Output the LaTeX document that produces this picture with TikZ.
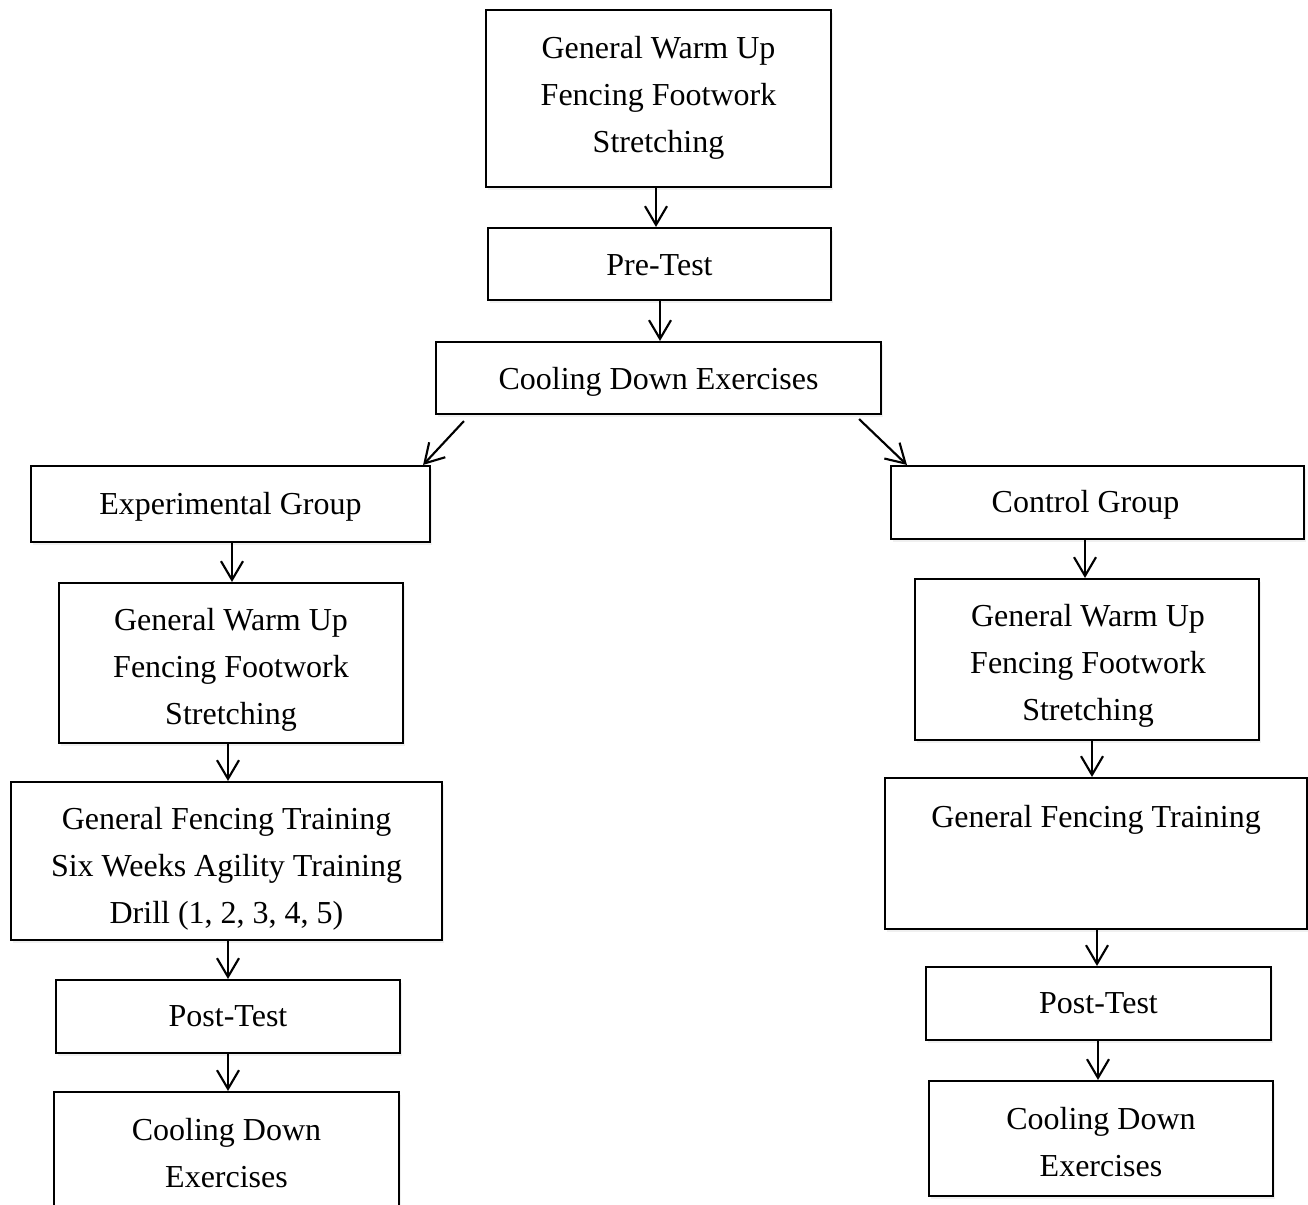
\documentclass[tikz,border=0pt]{standalone}
\usepackage{fontspec}
\setmainfont{Liberation Serif}
\usetikzlibrary{arrows.meta,shadows}
\newcommand\boxtext[4]{%
  \node[txt] (#1) at ([shift={(#3)}]#2.center) {#4};}
\begin{document}
\begin{tikzpicture}[x=0.75pt,y=-0.75pt,
  box/.style={draw, line width=1.6pt, fill=white, inner sep=0pt,
    drop shadow={opacity=0.12, shadow xshift=1.5pt, shadow yshift=-2pt}},
  txt/.style={align=center, inner sep=0pt, font=\fontsize{24}{35.25}\selectfont},
  arr/.style={line width=1.6pt, -{Straight Barb[length=14pt,width=16.5pt,line width=1.6pt]}}]
\useasboundingbox (0,0) rectangle (1308,1204);
\node[box, minimum width=258.75pt, minimum height=132.75pt] (top) at (658.5,98.5) {};
\node[box, minimum width=257.25pt, minimum height=54pt] (pre) at (659.5,264) {};
\node[box, minimum width=333.75pt, minimum height=54pt] (cd) at (658.5,378) {};
\node[box, minimum width=299.25pt, minimum height=57pt] (eg) at (230.5,504) {};
\node[box, minimum width=309.75pt, minimum height=54.75pt] (cg) at (1097.5,502.5) {};
\node[box, minimum width=258pt, minimum height=120pt] (lwu) at (231,663) {};
\node[box, minimum width=258pt, minimum height=120.75pt] (rwu) at (1087,659.5) {};
\node[box, minimum width=323.25pt, minimum height=118.5pt] (lgft) at (226.5,861) {};
\node[box, minimum width=316.5pt, minimum height=113.25pt] (rgft) at (1096,853.5) {};
\node[box, minimum width=258pt, minimum height=54.75pt] (lpt) at (228,1016.5) {};
\node[box, minimum width=258.75pt, minimum height=54.75pt] (rpt) at (1098.5,1003.5) {};
\node[box, minimum width=258.75pt, minimum height=90pt] (lcd) at (226.5,1152) {};
\node[box, minimum width=258pt, minimum height=86.25pt] (rcd) at (1101,1138.5) {};
\boxtext{ttop}{top}{0,-1}{General Warm Up\\Fencing Footwork\\Stretching}
\boxtext{tpre}{pre}{0,1}{Pre-Test}
\boxtext{tcd}{cd}{0,4}{Cooling Down Exercises}
\boxtext{teg}{eg}{0,3}{Experimental Group}
\boxtext{tcg}{cg}{-12,2}{Control Group}
\boxtext{tlwu}{lwu}{0,7}{General Warm Up\\Fencing Footwork\\Stretching}
\boxtext{trwu}{rwu}{1,6}{General Warm Up\\Fencing Footwork\\Stretching}
\boxtext{tlgft}{lgft}{0,8}{General Fencing Training\\Six Weeks Agility Training\\Drill (1, 2, 3, 4, 5)}
\boxtext{trgft}{rgft}{0,-34}{General Fencing Training}
\boxtext{tlpt}{lpt}{0,0}{Post-Test}
\boxtext{trpt}{rpt}{0,0}{Post-Test}
\boxtext{tlcd}{lcd}{0,1}{Cooling Down\\Exercises}
\boxtext{trcd}{rcd}{0,4}{Cooling Down\\Exercises}
\draw[arr] (top.south -| 656,0) -- (pre.north -| 656,0);
\draw[arr] (pre.south -| 660,0) -- (cd.north -| 660,0);
\draw[arr] ([shift={(29,6)}]cd.south west) -- ([shift={(-8,0)}]eg.north east);
\draw[arr] ([shift={(-23,4)}]cd.south east) -- ([shift={(17,0)}]cg.north west);
\draw[arr] (eg.south -| 232,0) -- (lwu.north -| 232,0);
\draw[arr] (lwu.south -| 228,0) -- (lgft.north -| 228,0);
\draw[arr] (lgft.south -| 228,0) -- (lpt.north -| 228,0);
\draw[arr] (lpt.south -| 228,0) -- (lcd.north -| 228,0);
\draw[arr] (cg.south -| 1085,0) -- (rwu.north -| 1085,0);
\draw[arr] (rwu.south -| 1092,0) -- (rgft.north -| 1092,0);
\draw[arr] (rgft.south -| 1097,0) -- (rpt.north -| 1097,0);
\draw[arr] (rpt.south -| 1098,0) -- (rcd.north -| 1098,0);
\end{tikzpicture}
\end{document}
